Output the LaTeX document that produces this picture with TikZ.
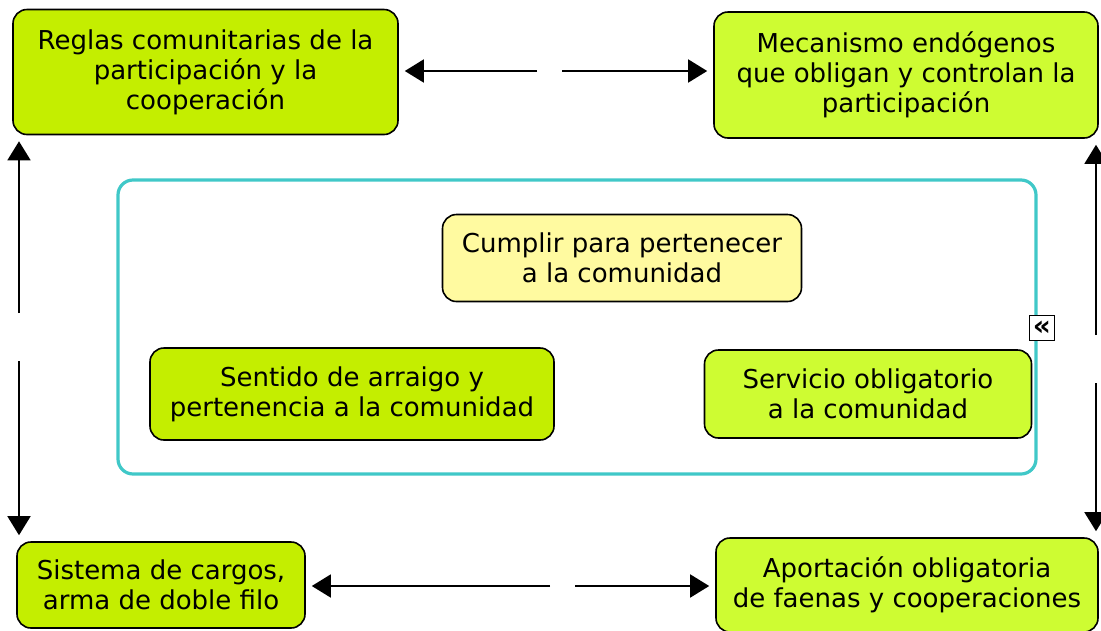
\documentclass[tikz,border=0pt]{standalone}
\usepackage{fontspec}
\setmainfont{DejaVu Sans}
\usetikzlibrary{arrows.meta, positioning}
\definecolor{limeA}{RGB}{196,238,0}
\definecolor{limeB}{RGB}{206,252,50}
\definecolor{paleY}{RGB}{255,250,160}
\definecolor{frameC}{RGB}{64,200,200}

\begin{document}
\begin{tikzpicture}[
    x=1pt, y=-1pt,
    box/.style={
      rectangle,
      rounded corners=14pt,
      draw=black,
      line width=1.6pt,
      fill=limeA,
      align=center,
      inner sep=0pt,
      font=\fontsize{26}{30}\selectfont
    },
    boxb/.style={box, fill=limeB},
    goal/.style={box, fill=paleY},
    frame/.style={
      rectangle,
      rounded corners=15pt,
      draw=frameC,
      line width=3.2pt
    },
    arrow/.style={
      -{Triangle[length=19pt,width=23pt]},
      line width=1.6pt,
      shorten >=6pt
    }
  ]
  \useasboundingbox (0,0) rectangle (1101,630);

  % Esquinas
  \node[box, minimum width=385pt, minimum height=125pt] (reglas) at (205.5,72)
    {Reglas comunitarias de la\\participación y la\\cooperación};
  \node[boxb, minimum width=384pt, minimum height=126pt] (mecanismo) at (906,75)
    {Mecanismo endógenos\\que obligan y controlan la\\participación};
  \node[box, minimum width=288pt, minimum height=86pt] (sistema) at (161,585)
    {Sistema de cargos,\\arma de doble filo};
  \node[boxb, minimum width=382pt, minimum height=94pt] (aportacion) at (907,585)
    {Aportación obligatoria\\de faenas y cooperaciones};

  % Recuadro central
  \node[frame, minimum width=918pt, minimum height=294pt] (grupo) at (577,327) {};
  \node[goal, minimum width=359pt, minimum height=87pt] (cumplir) at (622,258)
    {Cumplir para pertenecer\\a la comunidad};
  \node[box, minimum width=404pt, minimum height=92pt] (sentido) at (352,394)
    {Sentido de arraigo y\\pertenencia a la comunidad};
  \node[boxb, minimum width=327pt, minimum height=88pt] (servicio) at (868,394)
    {Servicio obligatorio\\a la comunidad};
  \node[draw, fill=white, line width=1.6pt, minimum size=25pt, inner sep=0pt,
    font=\fontsize{28}{28}\selectfont\bfseries] (plegar) at (1042,328) {«};

  % Enlaces (sin etiqueta)
  \coordinate (topL) at (537,71);
  \coordinate (topR) at (562,71);
  \coordinate (izqU) at (19,313);
  \coordinate (izqD) at (19,361);
  \coordinate (derU) at (1096,335);
  \coordinate (derD) at (1096,383);
  \coordinate (bajL) at (550,586);
  \coordinate (bajR) at (575,586);

  \draw[arrow] (topL) -- (topL -| reglas.east);
  \draw[arrow] (topR) -- (topR -| mecanismo.west);
  \draw[arrow] (izqU) -- (izqU |- reglas.south);
  \draw[arrow] (izqD) -- (izqD |- sistema.north);
  \draw[arrow] (derU) -- (derU |- mecanismo.south);
  \draw[arrow] (derD) -- (derD |- aportacion.north);
  \draw[arrow] (bajL) -- (bajL -| sistema.east);
  \draw[arrow] (bajR) -- (bajR -| aportacion.west);

\end{tikzpicture}
\end{document}
